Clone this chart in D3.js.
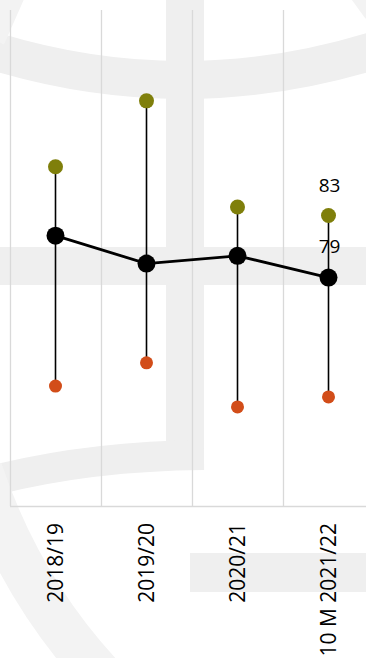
<!DOCTYPE html>
<html><head><meta charset="utf-8">
<script src="https://cdn.jsdelivr.net/npm/d3@7/dist/d3.min.js"></script>
<style>html,body{margin:0;padding:0;background:#fff;overflow:hidden}</style>
</head><body><svg id="c" width="366" height="658"></svg>
<script>
const categories = ["2018/19", "2019/20", "2020/21", "10 M 2021/22"];
const maxVals = [86.15, 90.4, 83.55, 83];
const avgVals = [81.7, 79.9, 80.4, 79];
const minVals = [72.0, 73.5, 70.65, 71.3];
const showLabels = [false, false, false, true];
const yDomain = [64.26, 96.26];

const svg = d3.select("#c");
const W = 366, H = 658;
const m = {left: 10, right: -8, top: 10, bottom: 152};
const x = d3.scaleBand().domain(categories).range([m.left, W - m.right]);
const y = d3.scaleLinear().domain(yDomain).range([H - m.bottom, m.top]);
const FONT = "'Open Sans', 'Noto Sans', sans-serif";

// watermark
const wm = svg.append("g").attr("fill", "none").attr("stroke", "#efefef");
wm.append("path").attr("d", "M-10,50 Q183,110 376,50").attr("stroke-width", 38);
wm.append("rect").attr("x", 166).attr("y", 0).attr("width", 38).attr("height", 468).attr("fill", "#efefef").attr("stroke", "none");
wm.append("rect").attr("x", 0).attr("y", 247).attr("width", 366).attr("height", 38).attr("fill", "#efefef").attr("stroke", "none");
wm.append("rect").attr("x", 190).attr("y", 553).attr("width", 176).attr("height", 39).attr("fill", "#efefef").attr("stroke", "none");
wm.append("path").attr("d", "M-5,480 Q90,456 204,455").attr("stroke-width", 30);
wm.append("path").attr("d", "M-20,470 Q20,590 105,680").attr("stroke-width", 45).attr("stroke", "#f3f3f3");
wm.append("path").attr("d", "M-6,40 L16,-10").attr("stroke-width", 22).attr("stroke", "#f3f3f3");
wm.append("path").attr("d", "M356,-8 L372,14").attr("stroke-width", 16).attr("stroke", "#f3f3f3");

// gridlines
const edges = categories.map(c => x(c)).concat([x.range()[1]]);
svg.append("g").selectAll("line").data(edges).join("line")
  .attr("x1", d => Math.round(d) + 0.5).attr("x2", d => Math.round(d) + 0.5)
  .attr("y1", m.top).attr("y2", y(yDomain[0]))
  .attr("stroke", "#d9d9d9").attr("stroke-width", 1.3);
svg.append("line").attr("x1", m.left).attr("x2", W)
  .attr("y1", y(yDomain[0]) + 0.5).attr("y2", y(yDomain[0]) + 0.5)
  .attr("stroke", "#d9d9d9").attr("stroke-width", 1.3);

// x axis labels
const ax = svg.append("g").attr("transform", `translate(0,${y(yDomain[0])})`)
  .call(d3.axisBottom(x).tickSize(0).tickPadding(0));
ax.select(".domain").remove();
ax.selectAll("text")
  .attr("font-family", FONT)
  .attr("font-size", 21).attr("fill", "#000")
  .attr("text-anchor", "end")
  .attr("transform", "translate(0,17) rotate(-90)")
  .attr("x", 0).attr("y", 0).attr("dy", "0.36em");

const cx = c => x(c) + x.bandwidth() / 2;

// stems
svg.append("g").selectAll("line").data(categories).join("line")
  .attr("x1", cx).attr("x2", cx)
  .attr("y1", (d, i) => y(maxVals[i])).attr("y2", (d, i) => y(minVals[i]))
  .attr("stroke", "#000").attr("stroke-width", 1.6);

// avg line
svg.append("path").datum(categories)
  .attr("d", d3.line().x(cx).y((d, i) => y(avgVals[i])))
  .attr("fill", "none").attr("stroke", "#000").attr("stroke-width", 2.8);

svg.append("g").selectAll("circle").data(categories).join("circle")
  .attr("cx", cx).attr("cy", (d, i) => y(maxVals[i])).attr("r", 7.5).attr("fill", "#7f7f0b");
svg.append("g").selectAll("circle").data(categories).join("circle")
  .attr("cx", cx).attr("cy", (d, i) => y(minVals[i])).attr("r", 6.5).attr("fill", "#d24d19");
svg.append("g").selectAll("circle").data(categories).join("circle")
  .attr("cx", cx).attr("cy", (d, i) => y(avgVals[i])).attr("r", 9).attr("fill", "#000");

// value labels
const lab = svg.append("g").attr("font-family", FONT)
  .attr("font-size", 19).attr("text-anchor", "middle").attr("fill", "#000");
categories.forEach((c, i) => {
  if (!showLabels[i]) return;
  lab.append("text").attr("x", cx(c) + 1).attr("y", y(maxVals[i]) - 24).text(Math.round(maxVals[i]));
  lab.append("text").attr("x", cx(c) + 1).attr("y", y(avgVals[i]) - 25).text(Math.round(avgVals[i]));
});
</script></body></html>
